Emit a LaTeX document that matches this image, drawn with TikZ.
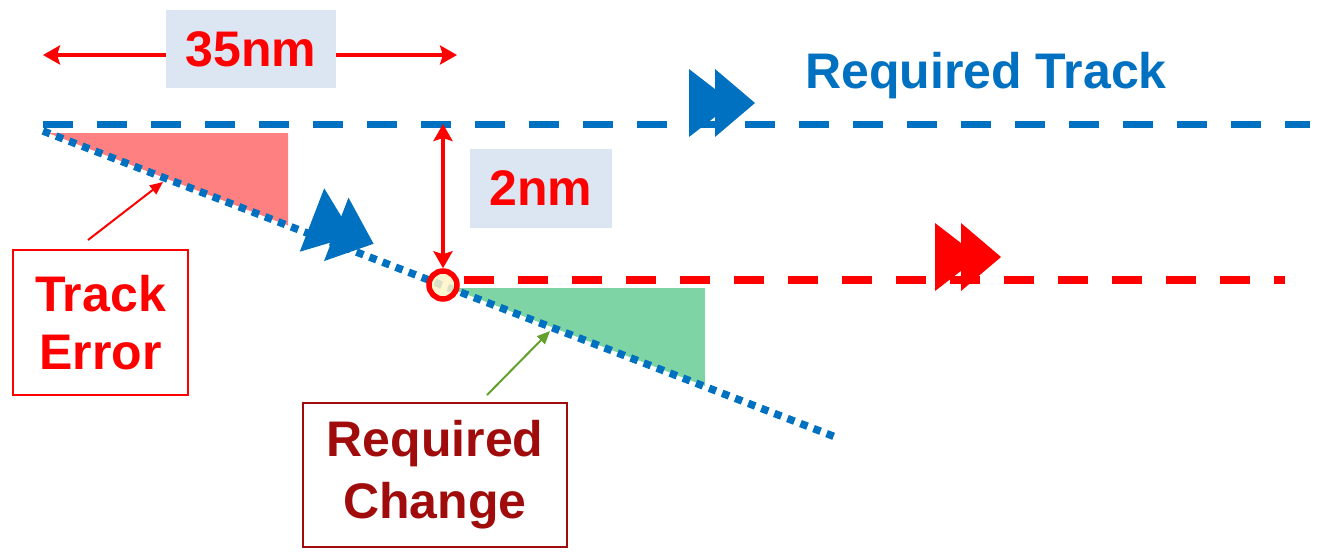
\documentclass[tikz,border=0pt]{standalone}
\usepackage{fontspec}
\setmainfont{Liberation Sans}
\usetikzlibrary{arrows.meta}
\definecolor{myblue}{RGB}{0,112,192}
\definecolor{myred}{RGB}{255,0,0}
\definecolor{mydarkred}{RGB}{160,12,12}
\definecolor{boxblue}{RGB}{220,230,242}
\definecolor{mypink}{RGB}{255,128,128}
\definecolor{mygreen}{RGB}{126,212,164}
\definecolor{myolive}{RGB}{100,160,46}
\definecolor{myyellow}{RGB}{255,245,200}
\tikzset{
  big/.style={font=\fontsize{50}{58}\selectfont\bfseries},
  dimbox/.style={big, text=myred, fill=boxblue, inner sep=0pt},
  labelbox/.style={big, draw, line width=2.5pt, align=center, inner sep=0pt},
  dimarrow/.style={myred, line width=4pt, -{Stealth[length=17pt,width=19pt,inset=3pt]}},
  pointer/.style={line width=2pt, -{Triangle[length=13pt,width=11pt]}},
  bluedash/.style={myblue, line width=7pt, dash pattern=on 30pt off 24pt},
  reddash/.style={myred, line width=8pt, dash pattern=on 30pt off 24pt},
  bluedot/.style={myblue, line width=7.5pt, dash pattern=on 7.5pt off 6.5pt},
  ff/.pic={
    \fill (0,-34) -- (0,34) -- (44,0) -- cycle;
    \fill (26,-34) -- (26,34) -- (66,0) -- cycle;
  }
}
\begin{document}
\begin{tikzpicture}[x=1pt,y=-1pt]
\useasboundingbox (0,0) rectangle (1334,558);

% coordinates
\coordinate (D1) at (43,131);
\coordinate (D2) at (838,438);
\coordinate (B1) at (43,124);
\coordinate (B2) at (1310,124);
\coordinate (R2) at (1285,280);
\coordinate (L35) at (43,55);
\coordinate (R35) at (457,55);
\coordinate (V1) at (443,124);

% shaded triangles
\fill[mypink] (48,133) -- (288,133) -- (288,225.5) -- cycle;
\fill[mygreen] (450,288) -- (705,288) -- (705,386) -- cycle;

% tracks
\draw[bluedash] (B1) -- (B2);
\draw[bluedot] (D1) -- (D2);

% circle
\node[circle, draw=myred, line width=5.5pt, fill=myyellow, fill opacity=0.85, draw opacity=1, minimum size=28pt, inner sep=0pt] (C) at (443,285) {};
\draw[reddash] (C.east |- R2) ++(4,0) coordinate (R1) -- (R2);

% fast forward markers
\pic[myblue] at (689,103) {ff};
\pic[myred] at (935,257) {ff};
\pic[myblue, rotate=-21.1] at (312,220) {ff};

% labels
\node[big, text=myblue, anchor=base] (RT) at (986,88) {Required Track};

\node[dimbox, minimum width=170pt, minimum height=78pt] (N35) at (251,49) {35nm};
\draw[dimarrow] (N35.west |- L35) -- (L35);
\draw[dimarrow] (N35.east |- R35) -- (R35);

\node[dimbox, minimum width=142pt, minimum height=79pt] (N2) at (541,188) {2nm};
\draw[myred, line width=4pt, {Stealth[length=17pt,width=19pt,inset=3pt]}-{Stealth[length=17pt,width=19pt,inset=3pt]}] (V1) -- (C.north);

\node[labelbox, draw=myred, text=myred, minimum width=175pt, minimum height=145pt] (TE) at (100.5,322.5) {Track\\Error};
\coordinate (TEt) at (163,182);
\draw[pointer, myred] (88,240) coordinate (TEs) -- (TEt);

\node[labelbox, draw=mydarkred, text=mydarkred, minimum width=264pt, minimum height=144pt, font=\fontsize{50}{62}\selectfont\bfseries] (RC) at (435,475) {Required\\Change};
\coordinate (RCt) at (550,331);
\draw[pointer, myolive] (487,395) coordinate (RCs) -- (RCt);
\end{tikzpicture}
\end{document}
